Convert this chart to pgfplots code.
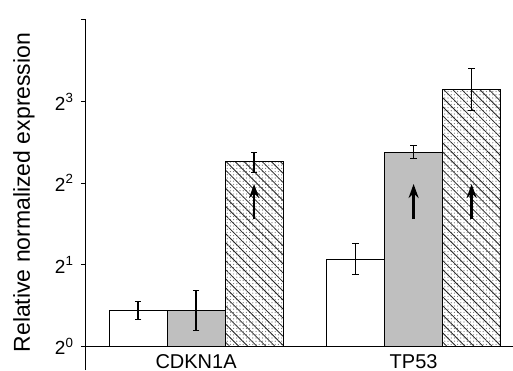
\documentclass[border=0pt]{standalone}
\usepackage{fontspec}
\setmainfont{Liberation Sans}
\usepackage{pgfplots}
\usepackage{pgfplotstable}
\pgfplotsset{compat=1.18}
\usetikzlibrary{patterns.meta, arrows.meta}

% log2 of relative normalized expression, with error limits
\pgfplotstableread{
x   y     ep    em
0   0.44  0.11  0.11
1   1.07  0.19  0.19
}\seriesA
\pgfplotstableread{
x   y     ep    em
0   0.44  0.24  0.25
1   2.38  0.08  0.08
}\seriesB
\pgfplotstableread{
x   y     ep    em
0   2.26  0.12  0.13
1   3.15  0.26  0.26
}\seriesC

\begin{document}
\begin{tikzpicture}
\begin{axis}[
  at={(43pt,0pt)}, anchor=south west,
  scale only axis, width=213.5pt, height=175pt,
  xmin=-0.506, xmax=1.457,
  ymin=-0.29, ymax=4,
  axis y line*=left, axis x line*=bottom,
  x axis line style={draw=none},
  y axis line style={line width=0.5pt},
  xtick={0,1}, xticklabels={CDKN1A,TP53},
  xtick style={draw=none},
  xticklabel style={anchor=base, inner sep=0pt, yshift=3.5pt, font=\fontsize{10}{11}\selectfont},
  ytick={0,1,2,3,4},
  yticklabels={2\textsuperscript{0},2\textsuperscript{1},2\textsuperscript{2},2\textsuperscript{3},{}},
  yticklabel style={font=\fontsize{9.5}{11}\selectfont},
  tick align=outside, major tick length=2.5pt,
  ytick style={line width=0.5pt, black},
  ylabel={Relative normalized expression},
  ylabel style={at={(axis description cs:-0.1452,0.507)}, rotate=0, anchor=center,
    font=\fontsize{11.5}{13}\selectfont},
  ybar=0pt, bar width=0.2667,
  error bars/y dir=both, error bars/y explicit,
  error bars/error bar style={line width=0.6pt, black},
  error bars/error mark options={rotate=90, mark size=1.6pt, line width=0.6pt, black},
]
\addplot[draw=black, line width=0.5pt, fill=white]
  table[x=x, y=y, y error plus=ep, y error minus=em]{\seriesA};
\addplot[draw=black, line width=0.5pt, fill=black!25]
  table[x=x, y=y, y error plus=ep, y error minus=em]{\seriesB};
\addplot[draw=black, line width=0.5pt, fill=white,
  postaction={pattern={Dots[distance=1.6pt,radius=0.3pt]}, pattern color=black!55},
  postaction={pattern={Lines[angle=-45,distance=3.2pt,line width=0.4pt]}, pattern color=black!85}]
  table[x=x, y=y, y error plus=ep, y error minus=em]{\seriesC};
% baseline
\draw[line width=0.6pt] (axis cs:-0.506,0) -- (axis cs:1.457,0);
% up-regulation arrows
\draw[line width=1.3pt, -{Stealth[length=7pt,width=5pt]}] (axis cs:0.2667,1.56) -- (axis cs:0.2667,1.99);
\draw[line width=1.3pt, -{Stealth[length=7pt,width=5pt]}] (axis cs:1,1.56) -- (axis cs:1,1.99);
\draw[line width=1.3pt, -{Stealth[length=7pt,width=5pt]}] (axis cs:1.2667,1.56) -- (axis cs:1.2667,1.99);
\end{axis}
\pgfresetboundingbox
\useasboundingbox (0,0) rectangle (256.5pt,185pt);
\end{tikzpicture}
\end{document}
